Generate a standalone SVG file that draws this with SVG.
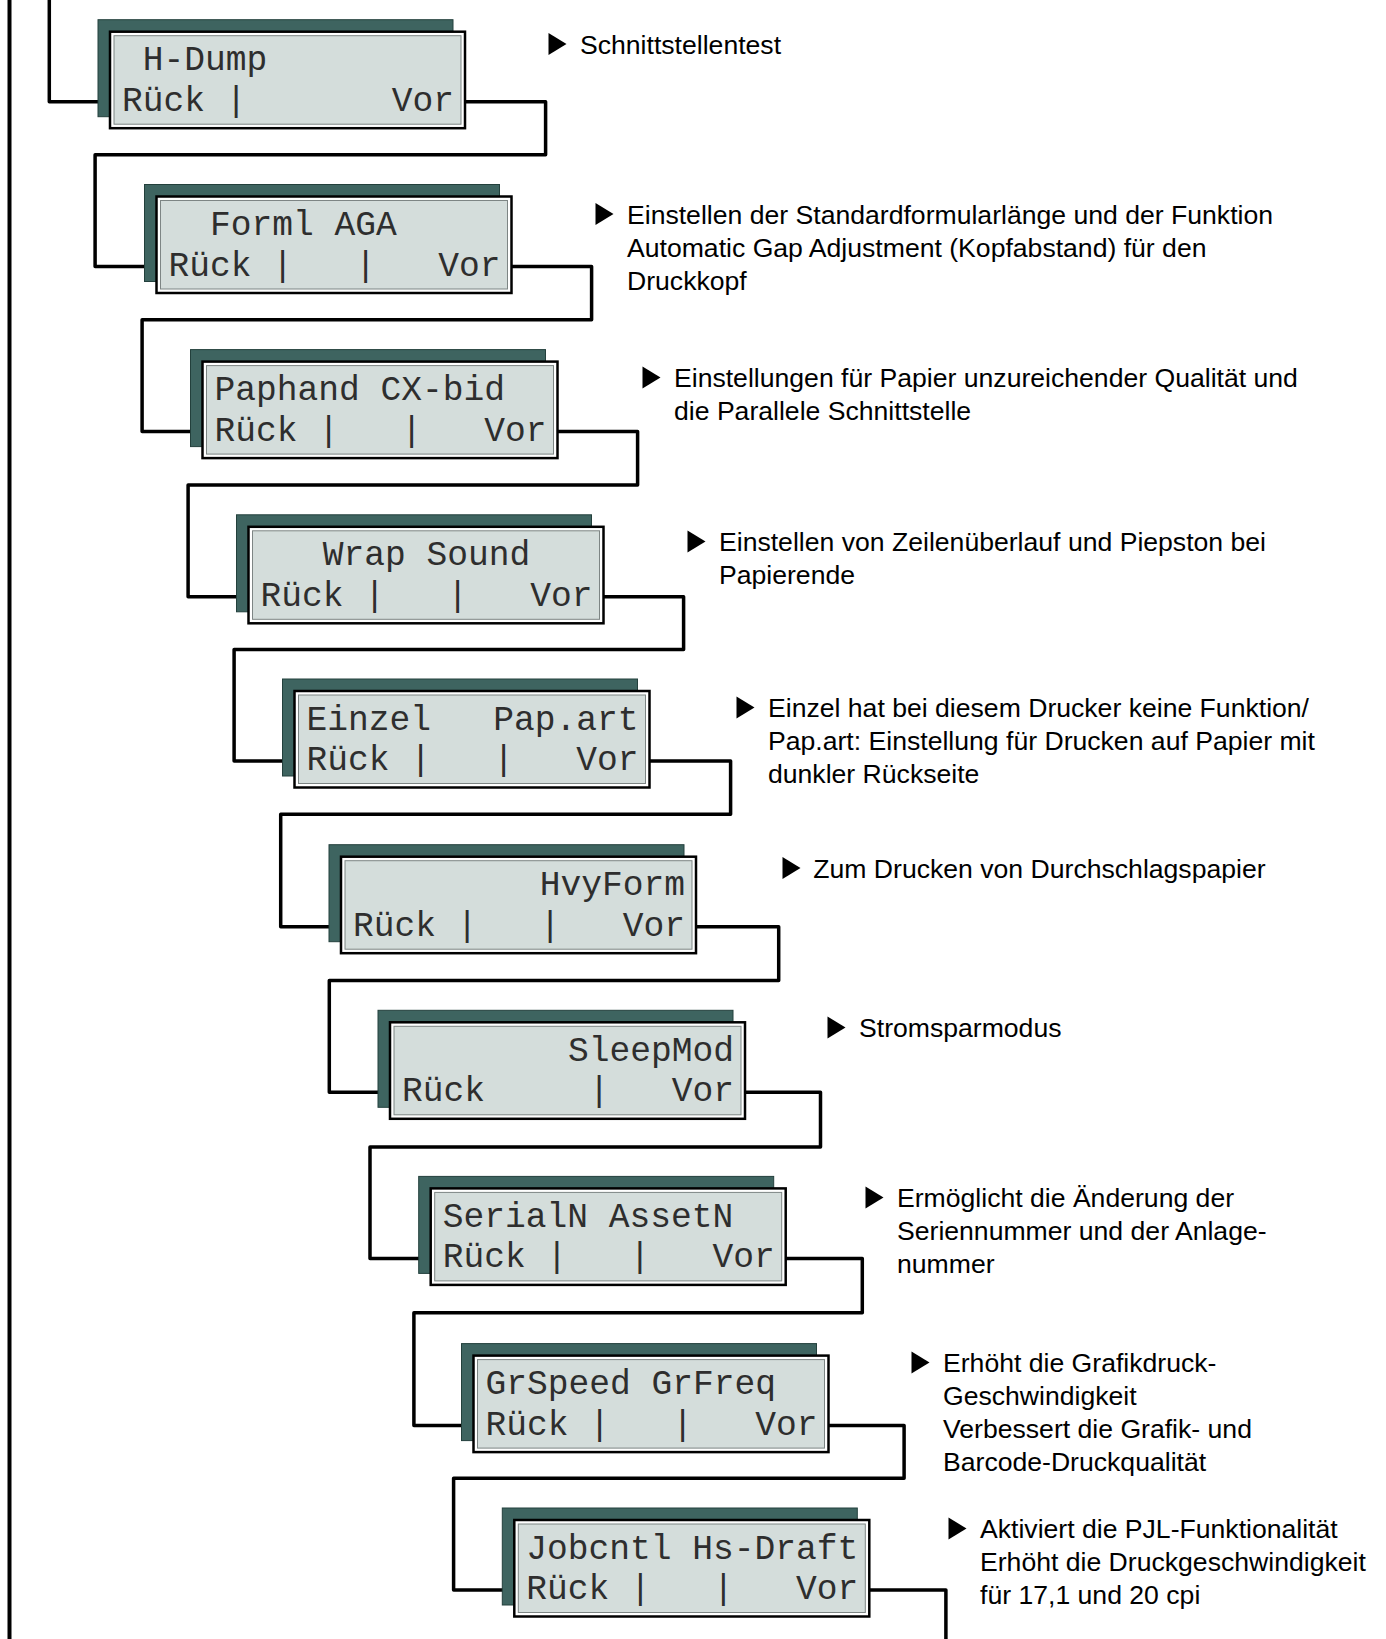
<svg xmlns="http://www.w3.org/2000/svg" width="1386" height="1639" viewBox="0 0 1386 1639">
  <style>
    .wire { fill: none; stroke: #000; stroke-width: 3.5; stroke-linejoin: round; stroke-linecap: butt; }
    .rail { fill: none; stroke: #000; stroke-width: 4; }
    .shadow { fill: #3e6460; stroke: #23403c; stroke-width: 1; }
    .frame { fill: #fff; stroke: #000; stroke-width: 2.5; }
    .screen { fill: #d4dddb; stroke: #7d8584; stroke-width: 1; }
    .lcd { font-family: "Liberation Mono", "Courier New", monospace; font-size: 34.6px; fill: #2e2e2e; white-space: pre; }
    .note { font-family: "Liberation Sans", Arial, sans-serif; font-size: 26.6px; fill: #000; }
  </style>
  <defs>
    <!-- one LCD panel: drop shadow, black frame, grey screen -->
    <g id="panel">
      <rect class="shadow" x="-12" y="-12" width="355" height="97"/>
      <rect class="frame" x="0" y="0" width="355" height="96.5"/>
      <rect class="screen" x="4" y="4" width="347" height="88.5"/>
    </g>
    <polygon id="tri" points="0,0 18,11 0,22"/>
  </defs>

  <rect width="1386" height="1639" fill="#fff"/>

  <!-- connectors: menu chain Rück / Vor -->
  <g id="connectors">
    <path class="rail" d="M9.5 0 V1639"/>
    <path class="wire" d="M49.3 0 V101.7 H115"/>
    <path class="wire" d="M460 101.7 H545.6 V154.7 H95.1 V266.5 H161.5"/>
    <path class="wire" d="M506.5 266.5 H591.6 V319.8 H142.1 V431.6 H207.5"/>
    <path class="wire" d="M552.5 431.6 H637.6 V485 H188.1 V596.8 H253.5"/>
    <path class="wire" d="M598.5 596.8 H683.6 V649.5 H234.1 V761 H299.5"/>
    <path class="wire" d="M644.5 761 H730.6 V814.2 H280.7 V926.7 H346"/>
    <path class="wire" d="M691 926.7 H778.7 V980.6 H329.3 V1092.3 H395"/>
    <path class="wire" d="M740 1092.3 H820.5 V1147 H370 V1258.4 H435.7"/>
    <path class="wire" d="M780.7 1258.4 H862.3 V1312.8 H413.9 V1425.6 H478.5"/>
    <path class="wire" d="M823.5 1425.6 H904.1 V1478.3 H453.6 V1590 H519.3"/>
    <path class="wire" d="M864.3 1590 H945.9 V1639"/>
  </g>

  <!-- menu panels -->
  <g id="node-hdump" transform="translate(110,31.7)">
    <use href="#panel"/>
    <text class="lcd" x="12" y="38.5" xml:space="preserve"> H-Dump</text>
    <text class="lcd" x="12" y="79" xml:space="preserve">Rück |       Vor</text>
  </g>
  <g id="node-forml" transform="translate(156.5,196.5)">
    <use href="#panel"/>
    <text class="lcd" x="12" y="38.5" xml:space="preserve">  Forml AGA</text>
    <text class="lcd" x="12" y="79" xml:space="preserve">Rück |   |   Vor</text>
  </g>
  <g id="node-paphand" transform="translate(202.5,361.6)">
    <use href="#panel"/>
    <text class="lcd" x="12" y="38.5" xml:space="preserve">Paphand CX-bid</text>
    <text class="lcd" x="12" y="79" xml:space="preserve">Rück |   |   Vor</text>
  </g>
  <g id="node-wrap" transform="translate(248.5,526.8)">
    <use href="#panel"/>
    <text class="lcd" x="12" y="38.5" xml:space="preserve">   Wrap Sound</text>
    <text class="lcd" x="12" y="79" xml:space="preserve">Rück |   |   Vor</text>
  </g>
  <g id="node-einzel" transform="translate(294.5,691)">
    <use href="#panel"/>
    <text class="lcd" x="12" y="38.5" xml:space="preserve">Einzel   Pap.art</text>
    <text class="lcd" x="12" y="79" xml:space="preserve">Rück |   |   Vor</text>
  </g>
  <g id="node-hvyform" transform="translate(341,856.7)">
    <use href="#panel"/>
    <text class="lcd" x="12" y="38.5" xml:space="preserve">         HvyForm</text>
    <text class="lcd" x="12" y="79" xml:space="preserve">Rück |   |   Vor</text>
  </g>
  <g id="node-sleepmod" transform="translate(390,1022.3)">
    <use href="#panel"/>
    <text class="lcd" x="12" y="38.5" xml:space="preserve">        SleepMod</text>
    <text class="lcd" x="12" y="79" xml:space="preserve">Rück     |   Vor</text>
  </g>
  <g id="node-serialn" transform="translate(430.7,1188.4)">
    <use href="#panel"/>
    <text class="lcd" x="12" y="38.5" xml:space="preserve">SerialN AssetN</text>
    <text class="lcd" x="12" y="79" xml:space="preserve">Rück |   |   Vor</text>
  </g>
  <g id="node-grspeed" transform="translate(473.5,1355.6)">
    <use href="#panel"/>
    <text class="lcd" x="12" y="38.5" xml:space="preserve">GrSpeed GrFreq</text>
    <text class="lcd" x="12" y="79" xml:space="preserve">Rück |   |   Vor</text>
  </g>
  <g id="node-jobcntl" transform="translate(514.3,1520)">
    <use href="#panel"/>
    <text class="lcd" x="12" y="38.5" xml:space="preserve">Jobcntl Hs-Draft</text>
    <text class="lcd" x="12" y="79" xml:space="preserve">Rück |   |   Vor</text>
  </g>

  <!-- explanations beside each panel -->
  <g id="notes">
    <g id="note-hdump">
      <use href="#tri" x="548.5" y="33"/>
      <text class="note" x="580" y="53.5">Schnittstellentest</text>
    </g>
    <g id="note-forml">
      <use href="#tri" x="595.5" y="203"/>
      <text class="note" x="627" y="223.8">Einstellen der Standardformularlänge und der Funktion</text>
      <text class="note" x="627" y="256.8">Automatic Gap Adjustment (Kopfabstand) für den</text>
      <text class="note" x="627" y="289.8">Druckkopf</text>
    </g>
    <g id="note-paphand">
      <use href="#tri" x="642.5" y="366.5"/>
      <text class="note" x="674" y="387">Einstellungen für Papier unzureichender Qualität und</text>
      <text class="note" x="674" y="420">die Parallele Schnittstelle</text>
    </g>
    <g id="note-wrap">
      <use href="#tri" x="687.5" y="530.5"/>
      <text class="note" x="719" y="551">Einstellen von Zeilenüberlauf und Piepston bei</text>
      <text class="note" x="719" y="584">Papierende</text>
    </g>
    <g id="note-einzel">
      <use href="#tri" x="736.5" y="696.5"/>
      <text class="note" x="768" y="717">Einzel hat bei diesem Drucker keine Funktion/</text>
      <text class="note" x="768" y="750">Pap.art: Einstellung für Drucken auf Papier mit</text>
      <text class="note" x="768" y="783">dunkler Rückseite</text>
    </g>
    <g id="note-hvyform">
      <use href="#tri" x="782.5" y="857"/>
      <text class="note" x="813.3" y="877.5">Zum Drucken von Durchschlagspapier</text>
    </g>
    <g id="note-sleepmod">
      <use href="#tri" x="827.5" y="1016.5"/>
      <text class="note" x="859" y="1037">Stromsparmodus</text>
    </g>
    <g id="note-serialn">
      <use href="#tri" x="865.5" y="1186.5"/>
      <text class="note" x="897" y="1207">Ermöglicht die Änderung der</text>
      <text class="note" x="897" y="1240">Seriennummer und der Anlage-</text>
      <text class="note" x="897" y="1273">nummer</text>
    </g>
    <g id="note-grspeed">
      <use href="#tri" x="911.5" y="1351.5"/>
      <text class="note" x="943" y="1372">Erhöht die Grafikdruck-</text>
      <text class="note" x="943" y="1405">Geschwindigkeit</text>
      <text class="note" x="943" y="1438">Verbessert die Grafik- und</text>
      <text class="note" x="943" y="1471">Barcode-Druckqualität</text>
    </g>
    <g id="note-jobcntl">
      <use href="#tri" x="948.5" y="1517.5"/>
      <text class="note" x="980" y="1538">Aktiviert die PJL-Funktionalität</text>
      <text class="note" x="980" y="1571">Erhöht die Druckgeschwindigkeit</text>
      <text class="note" x="980" y="1604">für 17,1 und 20 cpi</text>
    </g>
  </g>
</svg>
